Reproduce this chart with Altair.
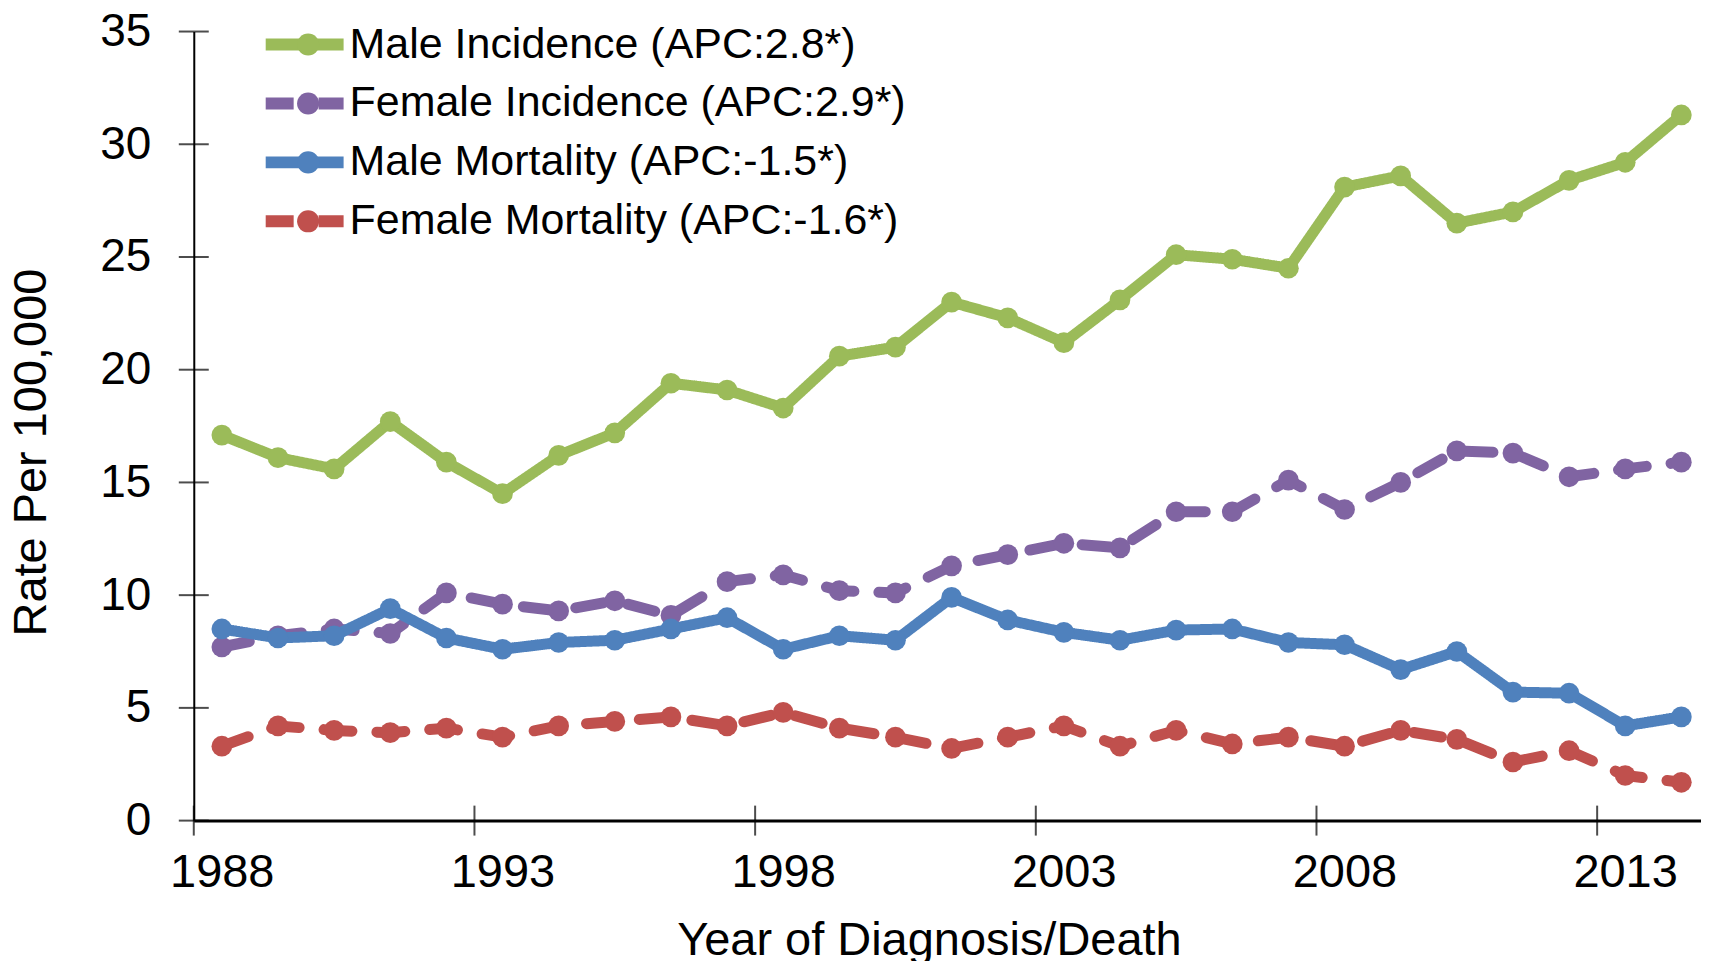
import altair as alt
import pandas as pd

FONT = "Liberation Sans"

years = list(range(1988, 2015))
series_names = [
    "Male Incidence (APC:2.8*)",
    "Female Incidence (APC:2.9*)",
    "Male Mortality (APC:-1.5*)",
    "Female Mortality (APC:-1.6*)",
]
male_incidence = [17.1, 16.1, 15.6, 17.7, 15.9, 14.5, 16.2, 17.2, 19.4, 19.1, 18.3, 20.6, 21.0,
                  23.0, 22.3, 21.2, 23.1, 25.1, 24.9, 24.5, 28.1, 28.6, 26.5, 27.0, 28.4, 29.2, 31.3]
female_incidence = [7.7, 8.2, 8.5, 8.3, 10.1, 9.6, 9.3, 9.75, 9.1, 10.6, 10.9, 10.2, 10.1,
                    11.3, 11.8, 12.3, 12.1, 13.7, 13.7, 15.1, 13.8, 15.0, 16.4, 16.3, 15.25, 15.6, 15.9]
male_mortality = [8.5, 8.1, 8.2, 9.4, 8.1, 7.6, 7.9, 8.0, 8.5, 9.0, 7.6, 8.2, 8.0,
                  9.9, 8.9, 8.35, 8.0, 8.45, 8.5, 7.9, 7.8, 6.7, 7.5, 5.7, 5.65, 4.2, 4.6]
female_mortality = [3.3, 4.2, 4.0, 3.9, 4.1, 3.7, 4.2, 4.4, 4.6, 4.2, 4.8, 4.1, 3.7,
                    3.2, 3.7, 4.2, 3.3, 4.0, 3.4, 3.7, 3.3, 4.0, 3.6, 2.6, 3.1, 2.0, 1.7]
colors = ["#9BBB59", "#8064A2", "#4F81BD", "#C0504D"]
dashes = [[1, 0], [28, 25], [1, 0], [28, 25]]
x_tick_years = [1988, 1993, 1998, 2003, 2008, 2013]
y_tick_values = [0, 5, 10, 15, 20, 25, 30, 35]

rows = []
for name, vals in zip(series_names, [male_incidence, female_incidence, male_mortality, female_mortality]):
    for yr, v in zip(years, vals):
        rows.append({"series": name, "mk": name, "year": yr, "rate": v})
df = pd.DataFrame(rows)

xs = alt.Scale(domain=[1988, 2014.85], nice=False, zero=False)
ys = alt.Scale(domain=[0, 35], nice=False)

x_axis = alt.Axis(
    values=x_tick_years, format="d", title="Year of Diagnosis/Death",
    ticks=False, tickSize=0, grid=False,
    domainColor="black", domainWidth=3,
    labelFont=FONT, labelFontSize=47, labelColor="black",
    labelOffset=28, labelPadding=29, labelFlush=False, labelOverlap=False,
    titleFont=FONT, titleFontSize=47, titleColor="black", titleFontWeight="normal",
    titleX=736, titleY=134, titleAlign="center", titleBaseline="alphabetic",
)
y_axis = alt.Axis(
    values=y_tick_values, title="Rate Per 100,000",
    ticks=False, tickSize=0, grid=False,
    domainColor="black", domainWidth=2,
    labelFont=FONT, labelFontSize=46, labelColor="black", labelPadding=43,
    titleFont=FONT, titleFontSize=47, titleColor="black", titleFontWeight="normal",
    titleX=-162, titleY=421, titleAngle=270, titleAlign="center", titleBaseline="middle",
)

stroke_legend = alt.Legend(
    title=None, orient="none", legendX=66, legendY=-8, padding=0,
    symbolType="stroke", symbolSize=6084, symbolStrokeWidth=12, clipHeight=42,
    labelFont=FONT, labelFontSize=43, labelColor="black", labelLimit=0,
    labelOffset=0, rowPadding=16,
)
fill_legend = alt.Legend(
    title=None, orient="none", legendX=66, legendY=-8, padding=0,
    symbolType="circle", symbolSize=490, symbolStrokeWidth=0, symbolOffset=27, clipHeight=42,
    labelFont=FONT, labelFontSize=43, labelOpacity=0, labelLimit=0,
    labelOffset=62, rowPadding=16,
)

base = alt.Chart(df).transform_calculate(xc="datum.year + 0.5")

x_ticks_df = pd.DataFrame({"yr": x_tick_years, "zero": [0] * len(x_tick_years)})
y_ticks_df = pd.DataFrame({"yv": y_tick_values, "x0": [1988] * len(y_tick_values)})

x_tick_layer = alt.Chart(x_ticks_df).mark_tick(orient="vertical", size=30, thickness=2, color="black").encode(
    x=alt.X("yr:Q", scale=xs, axis=x_axis),
    y=alt.Y("zero:Q", scale=ys, axis=y_axis),
)
y_tick_layer = alt.Chart(y_ticks_df).mark_tick(orient="horizontal", size=30, thickness=2, color="black").encode(
    x=alt.X("x0:Q", scale=xs, axis=x_axis),
    y=alt.Y("yv:Q", scale=ys, axis=y_axis),
)

layers = [x_tick_layer, y_tick_layer]
for name in series_names:
    sub = base.transform_filter(alt.datum.series == name)
    line = sub.mark_line(strokeWidth=11, strokeCap="round", strokeJoin="round").encode(
        x=alt.X("xc:Q", scale=xs, axis=x_axis),
        y=alt.Y("rate:Q", scale=ys, axis=y_axis),
        stroke=alt.Stroke("series:N", scale=alt.Scale(domain=series_names, range=colors), legend=stroke_legend),
        strokeDash=alt.StrokeDash("series:N", scale=alt.Scale(domain=series_names, range=dashes), legend=stroke_legend),
    )
    pts = sub.mark_circle(size=430, opacity=1).encode(
        x=alt.X("xc:Q", scale=xs, axis=x_axis),
        y=alt.Y("rate:Q", scale=ys, axis=y_axis),
        fill=alt.Fill("mk:N", sort=series_names, scale=alt.Scale(range=colors), legend=fill_legend),
    )
    layers += [line, pts]

chart = alt.layer(*layers).properties(
    width=1509, height=790,
    autosize=alt.AutoSizeParams(type="none"),
    padding={"left": 186, "top": 23, "right": 0, "bottom": 140},
).configure_view(strokeOpacity=0)

chart.save("out.html", embed_options={"renderer": "svg", "actions": False})
